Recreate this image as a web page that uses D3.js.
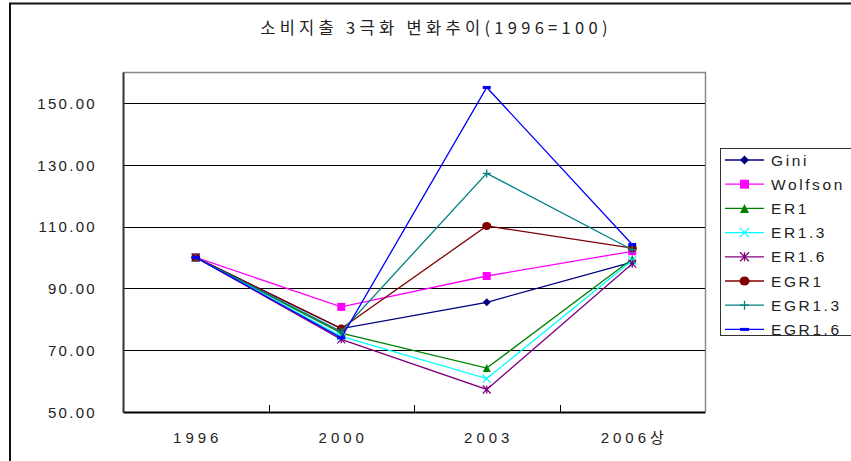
<!DOCTYPE html>
<html>
<head>
<meta charset="utf-8">
<script src="https://cdn.jsdelivr.net/npm/d3@7"></script>
<style>
  html, body { margin: 0; padding: 0; background: #fff; }
  svg { display: block; }
  text { font-family: "Liberation Sans", "Noto Sans CJK KR", sans-serif; fill: #222; }
</style>
</head>
<body>
<svg id="chart" width="851" height="461"></svg>
<script>
const title = "소비지출 3극화 변화추이(1996=100)";
const categories = ["1996", "2000", "2003", "2006상"];
const yTicks = [50, 70, 90, 110, 130, 150];
const seriesNames = ["Gini", "Wolfson", "ER1", "ER1.3", "ER1.6", "EGR1", "EGR1.3", "EGR1.6"];
const gini    = [100, 77.0, 85.5, 98.5];
const wolfson = [100, 84.0, 94.0, 102.0];
const er1     = [100, 75.5, 64.2, 99.5];
const er13    = [100, 74.5, 60.8, 99.0];
const er16    = [100, 73.5, 57.3, 98.0];
const egr1    = [100, 77.0, 110.2, 103.0];
const egr13   = [100, 76.0, 127.2, 102.5];
const egr16   = [100, 74.0, 155.0, 104.2];
const seriesValues = [gini, wolfson, er1, er13, er16, egr1, egr13, egr16];
const colors = ["#000080", "#FF00FF", "#008000", "#00FFFF", "#800080", "#800000", "#008080", "#0000FF"];
const markers = ["diamond", "square", "triangle", "x", "asterisk", "circle", "plus", "dash"];

const svg = d3.select("#chart");

// outer chart frame
svg.append("rect").attr("x", 10).attr("y", 3.5).attr("width", 900).attr("height", 500)
  .attr("fill", "none").attr("stroke", "#111").attr("stroke-width", 2);

svg.append("text").attr("x", 436).attr("y", 34).attr("text-anchor", "middle")
  .style("font-family", "'Noto Sans CJK KR', sans-serif")
  .style("font-size", "16.5px").style("letter-spacing", "4.3px").text(title);

const plot = { left: 123, right: 705, top: 72, bottom: 412 };
const x = d3.scaleBand().domain(categories).range([plot.left, plot.right]);
const y = d3.scaleLinear().domain([50, 160]).range([plot.bottom, plot.top]);

// plot frame (top/right grey)
svg.append("path")
  .attr("d", `M${plot.left},${plot.top + 0.5}H${plot.right + 0.5}V${plot.bottom}`)
  .attr("fill", "none").attr("stroke", "#888").attr("stroke-width", 1.5);

// gridlines
svg.append("g").selectAll("line").data(yTicks.slice(1)).join("line")
  .attr("x1", plot.left).attr("x2", plot.right)
  .attr("y1", d => Math.round(y(d)) + 0.5).attr("y2", d => Math.round(y(d)) + 0.5)
  .attr("stroke", "#000").attr("stroke-width", 1);

// y axis
const yAxis = d3.axisLeft(y).tickValues(yTicks).tickSize(0).tickFormat(d3.format(".2f"));
const gy = svg.append("g").attr("transform", `translate(${plot.left},0)`).call(yAxis);
gy.select(".domain").attr("stroke", "#333").attr("stroke-width", 2);
gy.selectAll("text").attr("x", -26).attr("dy", "0.36em")
  .style("font-size", "15px").style("letter-spacing", "2.3px").attr("fill", "#222");

// x axis
const xAxis = d3.axisBottom(x).tickSize(0);
const gx = svg.append("g").attr("transform", `translate(0,${plot.bottom})`).call(xAxis);
gx.select(".domain").attr("stroke", "#000").attr("stroke-width", 2);
gx.selectAll("text").attr("y", 26).attr("dy", "0.36em").attr("dx", "2px")
  .style("font-family", "'Liberation Sans', 'Noto Sans CJK KR', sans-serif")
  .style("font-size", "15px").style("letter-spacing", "4px").attr("fill", "#222");
// inner tick marks between categories
gx.append("g").selectAll("line").data(categories.slice(1)).join("line")
  .attr("x1", d => Math.round(x(d)) + 0.5).attr("x2", d => Math.round(x(d)) + 0.5)
  .attr("y1", 0).attr("y2", -7).attr("stroke", "#000").attr("stroke-width", 1);

function drawMarker(g, type, color, size) {
  const s = size;
  switch (type) {
    case "diamond":
      g.append("path").attr("d", `M0,${-s}L${s},0L0,${s}L${-s},0Z`).attr("fill", color); break;
    case "square":
      g.append("rect").attr("x", -s).attr("y", -s).attr("width", 2 * s).attr("height", 2 * s).attr("fill", color); break;
    case "triangle":
      g.append("path").attr("d", `M0,${-s}L${s},${s}L${-s},${s}Z`).attr("fill", color); break;
    case "x":
      g.append("path").attr("d", `M${-s},${-s}L${s},${s}M${-s},${s}L${s},${-s}`).attr("stroke", color).attr("stroke-width", 1.3); break;
    case "asterisk":
      g.append("path").attr("d", `M${-s},${-s}L${s},${s}M${-s},${s}L${s},${-s}M0,${-s}L0,${s}`).attr("stroke", color).attr("stroke-width", 1.3); break;
    case "circle":
      g.append("ellipse").attr("rx", s + 0.5).attr("ry", s).attr("fill", color); break;
    case "plus":
      g.append("path").attr("d", `M${-s},0L${s},0M0,${-s}L0,${s}`).attr("stroke", color).attr("stroke-width", 1.3); break;
    case "dash":
      g.append("rect").attr("x", -s).attr("y", -1.5).attr("width", 2 * s).attr("height", 3).attr("fill", color); break;
  }
}

const line = d3.line().x((d, i) => x(categories[i]) + x.bandwidth() / 2).y(d => y(d));
seriesValues.forEach((vals, si) => {
  svg.append("path").datum(vals).attr("d", line)
    .attr("fill", "none").attr("stroke", colors[si]).attr("stroke-width", 1.3);
  vals.forEach((v, i) => {
    const g = svg.append("g").attr("transform", `translate(${x(categories[i]) + x.bandwidth() / 2},${y(v)})`);
    drawMarker(g, markers[si], colors[si], 4);
  });
});

// legend
const lg = svg.append("g");
lg.append("rect").attr("x", 720.5).attr("y", 148.5).attr("width", 200).attr("height", 187)
  .attr("fill", "#fff").attr("stroke", "#333").attr("stroke-width", 1);
seriesNames.forEach((name, i) => {
  const cy = 160 + i * 24.2;
  lg.append("line").attr("x1", 725).attr("x2", 764).attr("y1", cy).attr("y2", cy)
    .attr("stroke", colors[i]).attr("stroke-width", 1.3);
  const g = lg.append("g").attr("transform", `translate(744.5,${cy})`);
  drawMarker(g, markers[i], colors[i], 4.5);
  lg.append("text").attr("x", 771).attr("y", cy).attr("dy", "0.36em")
    .style("font-size", "15.5px").style("letter-spacing", "2.6px").text(name);
});
</script>
</body>
</html>
